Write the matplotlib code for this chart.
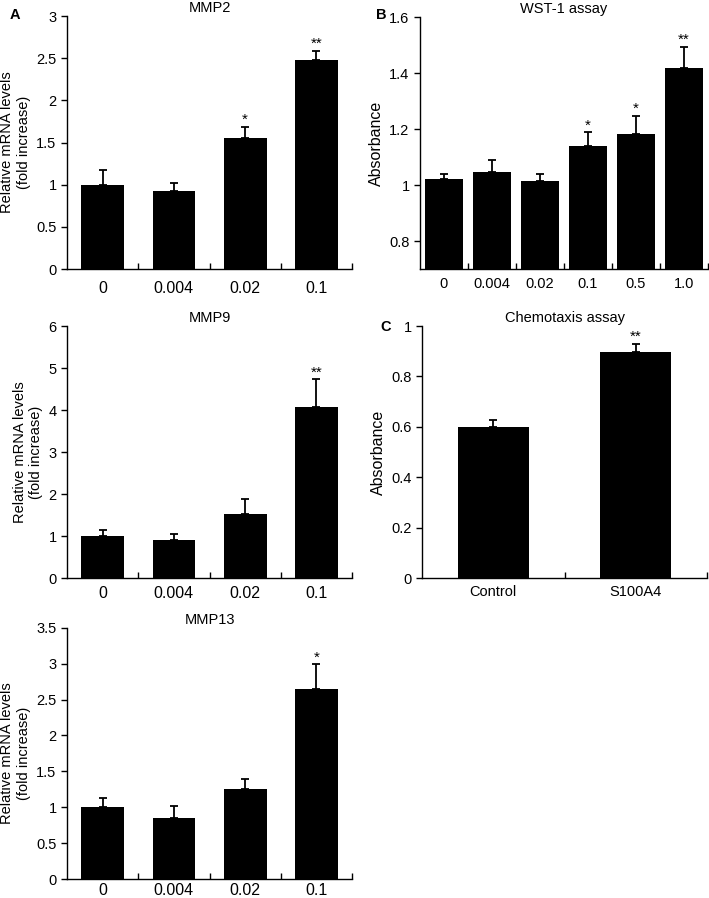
import matplotlib
matplotlib.use('Agg')
import matplotlib.pyplot as plt
import numpy as np

# data
doses = ['0', '0.004', '0.02', '0.1']
mmp2_mean = [1.00, 0.93, 1.55, 2.48]
mmp2_err = [0.18, 0.09, 0.14, 0.11]
mmp2_sig = ['', '', '*', '**']

mmp9_mean = [0.99, 0.91, 1.52, 4.07]
mmp9_err = [0.16, 0.14, 0.37, 0.66]
mmp9_sig = ['', '', '', '**']

mmp13_mean = [1.00, 0.85, 1.25, 2.64]
mmp13_err = [0.13, 0.17, 0.14, 0.35]
mmp13_sig = ['', '', '', '*']

wst_doses = ['0', '0.004', '0.02', '0.1', '0.5', '1.0']
wst_mean = [1.021, 1.048, 1.013, 1.140, 1.182, 1.418]
wst_err = [0.019, 0.042, 0.027, 0.048, 0.064, 0.075]
wst_sig = ['', '', '', '*', '*', '**']

chemo_groups = ['Control', 'S100A4']
chemo_mean = [0.598, 0.897]
chemo_err = [0.028, 0.033]
chemo_sig = ['', '**']

plt.rcParams['font.family'] = ['Liberation Sans', 'DejaVu Sans']
plt.rcParams['font.size'] = 10.5


def bar_panel(ax, labels, mean, err, sig, width, ylim, yticks, yticklabels,
              title, ylabel, xsize=11, xpad=5.5, ylabsize=10.5):
    """
    draw one bar panel with upper error bars and significance stars
    """
    x = np.arange(len(labels))
    ax.bar(x, mean, width=width, color='black', zorder=2)
    ax.errorbar(x, mean, yerr=[np.zeros(len(mean)), err], fmt='none',
                ecolor='black', elinewidth=1.3, capsize=3, capthick=1.3, zorder=1)
    for xi, m, e, s in zip(x, mean, err, sig):
        if s:
            ax.annotate(s, (xi, m + e), xytext=(0, 0), textcoords='offset points',
                        ha='center', va='bottom', fontsize=11)
    ax.set_xlim(-0.5, len(labels) - 0.5)
    ax.set_ylim(*ylim)
    ax.set_yticks(yticks)
    ax.set_yticklabels(yticklabels)
    ax.set_xticks(x)
    ax.set_xticklabels(labels)
    ax.set_xticks(np.arange(len(labels)) + 0.5, minor=True)
    ax.tick_params(axis='x', which='major', length=0, pad=xpad, labelsize=xsize)
    ax.tick_params(axis='x', which='minor', direction='in', length=4, width=1)
    ax.tick_params(axis='y', direction='out', length=4, width=1, labelsize=10.5)
    for sp in ['top', 'right']:
        ax.spines[sp].set_visible(False)
    for sp in ['left', 'bottom']:
        ax.spines[sp].set_linewidth(1)
    ax.set_title(title, fontsize=10.5, pad=3)
    ax.set_ylabel(ylabel, fontsize=ylabsize, labelpad=4)


fig = plt.figure(figsize=(7.09, 8.98), dpi=100)

ax_a = fig.add_axes([0.0945, 0.7004, 0.402, 0.2817])
bar_panel(ax_a, doses, mmp2_mean, mmp2_err, mmp2_sig, 0.6, (0, 3),
          [0, 0.5, 1, 1.5, 2, 2.5, 3], ['0', '0.5', '1', '1.5', '2', '2.5', '3'],
          'MMP2', 'Relative mRNA levels\n(fold increase)', xsize=11.5, xpad=8.5)

ax_b = fig.add_axes([0.5924, 0.7004, 0.406, 0.2806])
bar_panel(ax_b, wst_doses, wst_mean, wst_err, wst_sig, 0.8, (0.7, 1.6),
          [0.8, 1.0, 1.2, 1.4, 1.6], ['0.8', '1', '1.2', '1.4', '1.6'],
          'WST-1 assay', 'Absorbance', xsize=10.5, xpad=5.5, ylabsize=11.5)

ax_9 = fig.add_axes([0.0945, 0.3563, 0.402, 0.2806])
bar_panel(ax_9, doses, mmp9_mean, mmp9_err, mmp9_sig, 0.6, (0, 6),
          [0, 1, 2, 3, 4, 5, 6], ['0', '1', '2', '3', '4', '5', '6'],
          'MMP9', 'Relative mRNA levels\n(fold increase)', xsize=11.5, xpad=5.5)

ax_c = fig.add_axes([0.5952, 0.3563, 0.402, 0.2806])
bar_panel(ax_c, chemo_groups, chemo_mean, chemo_err, chemo_sig, 0.5, (0, 1),
          [0, 0.2, 0.4, 0.6, 0.8, 1.0], ['0', '0.2', '0.4', '0.6', '0.8', '1'],
          'Chemotaxis assay', 'Absorbance', xsize=10.5, xpad=5, ylabsize=11.5)

ax_13 = fig.add_axes([0.0945, 0.0210, 0.402, 0.2800])
bar_panel(ax_13, doses, mmp13_mean, mmp13_err, mmp13_sig, 0.6, (0, 3.5),
          [0, 0.5, 1, 1.5, 2, 2.5, 3, 3.5],
          ['0', '0.5', '1', '1.5', '2', '2.5', '3', '3.5'],
          'MMP13', 'Relative mRNA levels\n(fold increase)', xsize=11.5, xpad=2.5)

# panel letters
fig.text(10 / 709, 1 - 15 / 898, 'A', fontsize=10.5, fontweight='bold', va='center')
fig.text(376 / 709, 1 - 15 / 898, 'B', fontsize=10.5, fontweight='bold', va='center')
fig.text(380 / 709, 1 - 327 / 898, 'C', fontsize=10.5, fontweight='bold', va='center')

fig.savefig('out.png', dpi=100)
